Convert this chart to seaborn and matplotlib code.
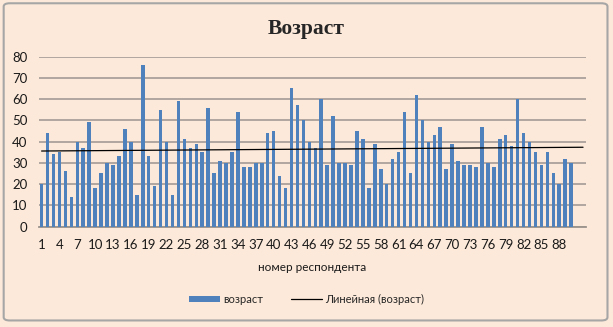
import numpy as np
import pandas as pd
import matplotlib
matplotlib.use("Agg")
import matplotlib.pyplot as plt
import seaborn as sns
from matplotlib.patches import Patch, FancyBboxPatch
from matplotlib.lines import Line2D

# respondent ages
respondents = list(range(1, 91))
ages = [20, 44, 34, 35, 26, 14, 40, 37, 49, 18,
        25, 30, 29, 33, 46, 40, 15, 76, 33, 19,
        55, 40, 15, 59, 41, 37, 39, 35, 56, 25,
        31, 30, 35, 54, 28, 28, 30, 30, 44, 45,
        24, 18, 65, 57, 50, 40, 37, 60, 29, 52,
        30, 30, 29, 45, 41, 18, 39, 27, 20, 32,
        35, 54, 25, 62, 50, 40, 43, 47, 27, 39,
        31, 29, 29, 28, 47, 30, 28, 41, 43, 38,
        60, 44, 40, 35, 29, 35, 25, 20, 32, 30]
forecast_forward = 2  # trendline extended past the last respondent

df = pd.DataFrame({"respondent": respondents, "age": ages})

bg = "#FDE9D9"
sns.set_style("white")
plt.rcParams["font.family"] = ["Lato", "DejaVu Sans"]

fig = plt.figure(figsize=(6.13, 3.27), dpi=100, facecolor=bg)
ax = fig.add_axes([0.063, 0.307, 0.893, 0.520])
ax.set_facecolor(bg)

sns.barplot(data=df, x="respondent", y="age", color="#4F81BD",
            saturation=1, width=0.6, ax=ax)
for p in ax.patches:
    p.set_zorder(3)
    p.set_edgecolor("none")

# linear trendline (least squares), extended forward
pos = np.arange(len(ages))
k, b = np.polyfit(pos, np.array(ages, dtype=float), 1)
tx = np.array([0, len(ages) - 1 + forecast_forward])
ax.plot(tx, k * tx + b, color="black", lw=0.9, zorder=4)

ax.set_xlim(-0.5, len(ages) - 0.5 + forecast_forward)
ax.set_ylim(0, 80)
ax.set_yticks(range(0, 81, 10))
ax.set_xticks(pos[::3])
ax.set_xticklabels([str(r) for r in respondents[::3]])
ax.tick_params(axis="both", length=0, labelsize=9.5, colors="#1a1a1a")
ax.tick_params(axis="x", pad=9)
ax.tick_params(axis="y", pad=8)
ax.set_axisbelow(True)
ax.yaxis.grid(True, color="#ABA29B", lw=1.3)
for gl in ax.get_ygridlines():
    gl.set_zorder(1)
for s in ["top", "right", "left"]:
    ax.spines[s].set_visible(False)
ax.spines["bottom"].set_color("#9A938C")
ax.spines["bottom"].set_linewidth(1.3)
ax.spines["bottom"].set_zorder(2)
ax.set_xlabel("номер респондента", fontsize=8.5, labelpad=8, color="#1a1a1a")
ax.set_ylabel("")

fig.text(0.5, 0.912, "Возраст", ha="center", va="center", fontsize=15.5,
         fontweight="bold", family=["Liberation Serif", "DejaVu Serif"])

handles = [Patch(facecolor="#4F81BD", edgecolor="none"),
           Line2D([], [], color="black", lw=0.9)]
fig.legend(handles, ["возраст", "Линейная (возраст)"], loc="center",
           bbox_to_anchor=(0.5, 0.085), ncol=2, frameon=False, fontsize=8,
           handlelength=2.8, handleheight=0.5, columnspacing=2.5,
           handletextpad=0.3)

border = FancyBboxPatch((0.006, 0.02), 0.985, 0.97, boxstyle="round,pad=0,rounding_size=0.01",
                        transform=fig.transFigure, facecolor="none",
                        edgecolor="#A6A6A6", lw=1.5)
fig.patches.append(border)

fig.savefig("out.png", dpi=100, facecolor=bg)
